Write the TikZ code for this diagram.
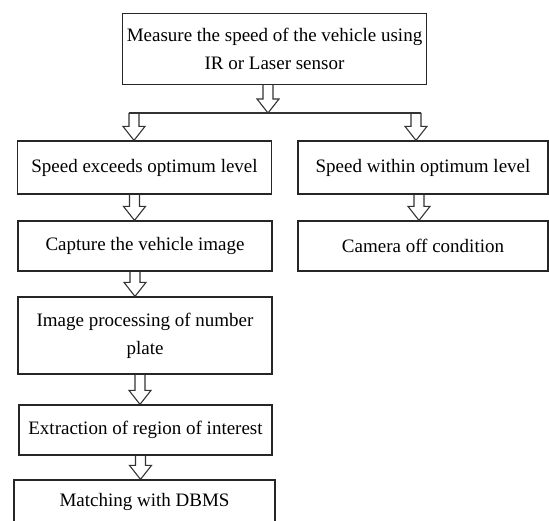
\documentclass[tikz,border=0pt]{standalone}
\usepackage{fontspec}
\setmainfont{Liberation Serif}
\usetikzlibrary{calc}
\tikzset{
  box/.style={draw=black!85, line width=1.2pt, align=center, inner sep=0pt,
    font=\fontsize{19}{28}\selectfont},
  hollow/.style={draw=black!80, line width=1.1pt, line join=miter}
}
% hollow block arrow, x taken from the first point
\newcommand{\blockarrow}[2]{%
  \draw[hollow] let \p1=(#1), \p2=(#2) in
    (\x1-5pt,\y1) -- (\x1-5pt,\y2+14pt) -- (\x1-11pt,\y2+14pt) -- (\x1,\y2)
    -- (\x1+11pt,\y2+14pt) -- (\x1+5pt,\y2+14pt) -- (\x1+5pt,\y1);
}

\begin{document}
\begin{tikzpicture}[x=1pt,y=1pt]
  \useasboundingbox (0,0) rectangle (549,-521);
  % Boxes
  \node[box, minimum width=304pt, minimum height=71pt] (measure) at (274.5,-49) {Measure the speed of the vehicle using\\IR or Laser sensor};
  \node[box, minimum width=254pt, minimum height=53pt] (exceed) at (144.5,-167.5) {Speed exceeds optimum level};
  \node[box, minimum width=250pt, minimum height=53pt] (within) at (423,-167.5) {Speed within optimum level};
  \node[box, minimum width=254pt, minimum height=50pt] (capture) at (145,-246) {Capture the vehicle image};
  \node[box, minimum width=250pt, minimum height=50pt] (camoff) at (423,-246) {Camera off condition};
  \node[box, minimum width=254pt, minimum height=77pt] (improc) at (145,-335.5) {Image processing of number\\plate};
  \node[box, minimum width=253pt, minimum height=50pt] (extract) at (145.5,-430) {Extraction of region of interest};
  \node[box, minimum width=261pt, minimum height=44pt] (match) at (144.5,-502) {Matching with DBMS};
  % Split
  \coordinate (split) at (268,-113);
  \coordinate (splitL) at (134,-113);
  \coordinate (splitR) at (416,-113);
  \draw[hollow] ([xshift=-5pt]splitL) -- ([xshift=5pt]splitR);
  % Arrows
  \blockarrow{split |- measure.south}{split}
  \blockarrow{splitL}{exceed.north}
  \blockarrow{splitR}{within.north}
  \blockarrow{[xshift=-10pt]exceed.south}{capture.north}
  \blockarrow{[xshift=-4pt]within.south}{camoff.north}
  \blockarrow{[xshift=-10pt]capture.south}{improc.north}
  \blockarrow{[xshift=-5pt]improc.south}{extract.north}
  \blockarrow{[xshift=-5pt]extract.south}{match.north}
\end{tikzpicture}
\end{document}
